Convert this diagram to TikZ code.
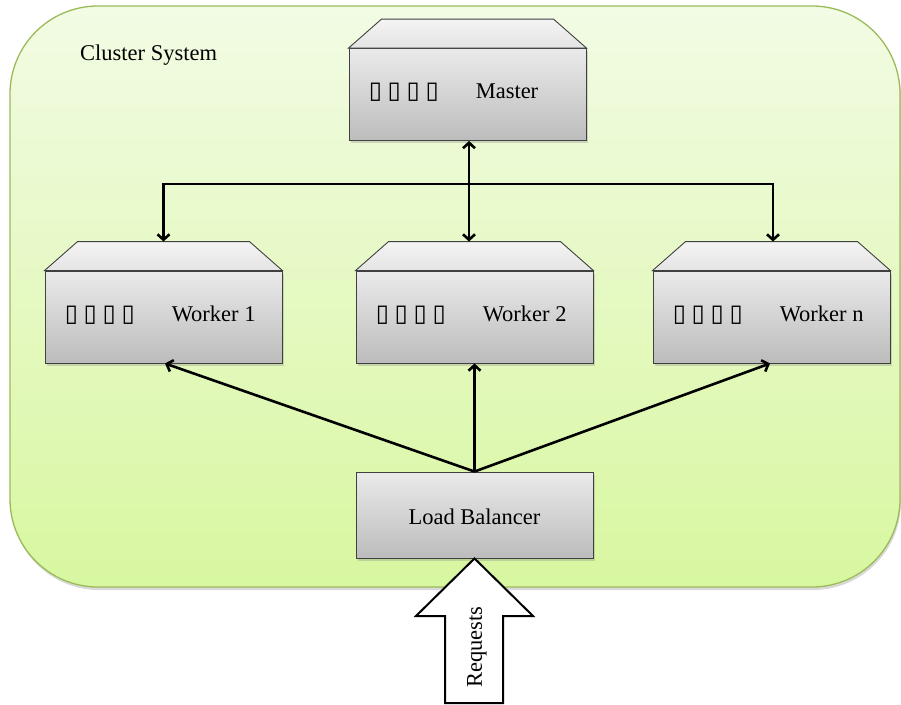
\documentclass[tikz,border=0pt]{standalone}
\usepackage{fontspec}
\setmainfont{Liberation Serif}
\newfontfamily\symfont{DejaVu Sans}
\usetikzlibrary{arrows.meta,shadows}
\definecolor{clTop}{RGB}{242,251,228}
\definecolor{clBot}{RGB}{216,247,160}
\definecolor{clLine}{RGB}{155,187,89}
\definecolor{bxTop}{RGB}{234,234,234}
\definecolor{bxBot}{RGB}{188,188,188}
\definecolor{lidTop}{RGB}{244,244,244}
\definecolor{lidBot}{RGB}{228,228,228}
\definecolor{bxLine}{RGB}{64,64,64}
\newcommand\tofuglyph{\makebox[19pt][l]{▯}}
\newcommand\tofurow{{\symfont\fontsize{24}{28}\selectfont\tofuglyph\tofuglyph\tofuglyph\tofuglyph}}
\begin{document}
\begin{tikzpicture}[x=1pt,y=-1pt,
  txt/.style={font=\fontsize{22.5}{26}\selectfont, inner sep=0pt},
  body/.style={draw=bxLine, line width=0.9pt, top color=bxTop, bottom color=bxBot,
    minimum width=237pt, minimum height=92pt, inner sep=0pt,
    drop shadow={opacity=0.3, shadow xshift=1.5pt, shadow yshift=-2.5pt}},
  lid/.style={draw=bxLine, line width=0.9pt, top color=lidTop, bottom color=lidBot},
  lbbox/.style={body, minimum height=86pt},
  conn/.style={line width=2.6pt, -{Straight Barb[length=5.5pt,width=12pt]}},
  conn2/.style={line width=2.6pt, {Straight Barb[length=5.5pt,width=12pt]}-{Straight Barb[length=5.5pt,width=12pt]}}
]
\useasboundingbox (0,0) rectangle (901,704);

% cluster background
\path[draw=clLine, line width=1.3pt, top color=clTop, bottom color=clBot,
  rounded corners=88pt, drop shadow={opacity=0.3, shadow xshift=1pt, shadow yshift=-3pt}]
  (10,6) rectangle (900,587);
\node[txt, anchor=west] (title) at (80,55) {Cluster System};

% server boxes
\newcommand\serverbox[4]{%
  \node[body] (#1) at (#2,#3) {};
  \path[lid] (#1.north west) -- ([xshift=33pt,yshift=29pt]#1.north west)
     -- ([xshift=-33pt,yshift=29pt]#1.north east) -- (#1.north east) -- cycle;
  \coordinate (#1top) at ([yshift=29pt]#1.north);
  \node[anchor=west, inner sep=0pt] (#1sym) at ([xshift=20pt,yshift=2pt]#1.west) {\tofurow};
  \node[txt, anchor=west] (#1txt) at ([xshift=127pt,yshift=3pt]#1.west) {#4};
}
\serverbox{m}{467.5}{94.5}{Master}
\serverbox{wa}{163.5}{317}{Worker 1}
\serverbox{wb}{474.5}{317}{Worker 2}
\serverbox{wn}{771.5}{317}{Worker n}

% load balancer
\node[lbbox] (lb) at (474.5,515) {};
\node[txt] (lbtxt) at (474.5,517) {Load Balancer};

% connectors
\coordinate (bus) at (469,184);
\draw[conn2] (m.south -| bus) -- (wbtop -| bus);
\draw[conn] (bus) -| (watop);
\draw[conn] (bus) -| ([xshift=1.5pt]wntop);
\draw[conn] (lb.north) -- (wb.south);
\draw[conn] (lb.north) -- ([xshift=1.5pt]wa.south);
\draw[conn] (lb.north) -- ([xshift=-1.5pt]wn.south);

% requests arrow
\path[draw=black, line width=2pt, fill=white, line join=miter]
  (lb.south) -- (533,616) -- (503,616) -- (503,703) -- (445,703) -- (445,616) -- (416,616) -- cycle;
\node[txt, rotate=90] (req) at (477,647) {Requests};
\end{tikzpicture}
\end{document}
